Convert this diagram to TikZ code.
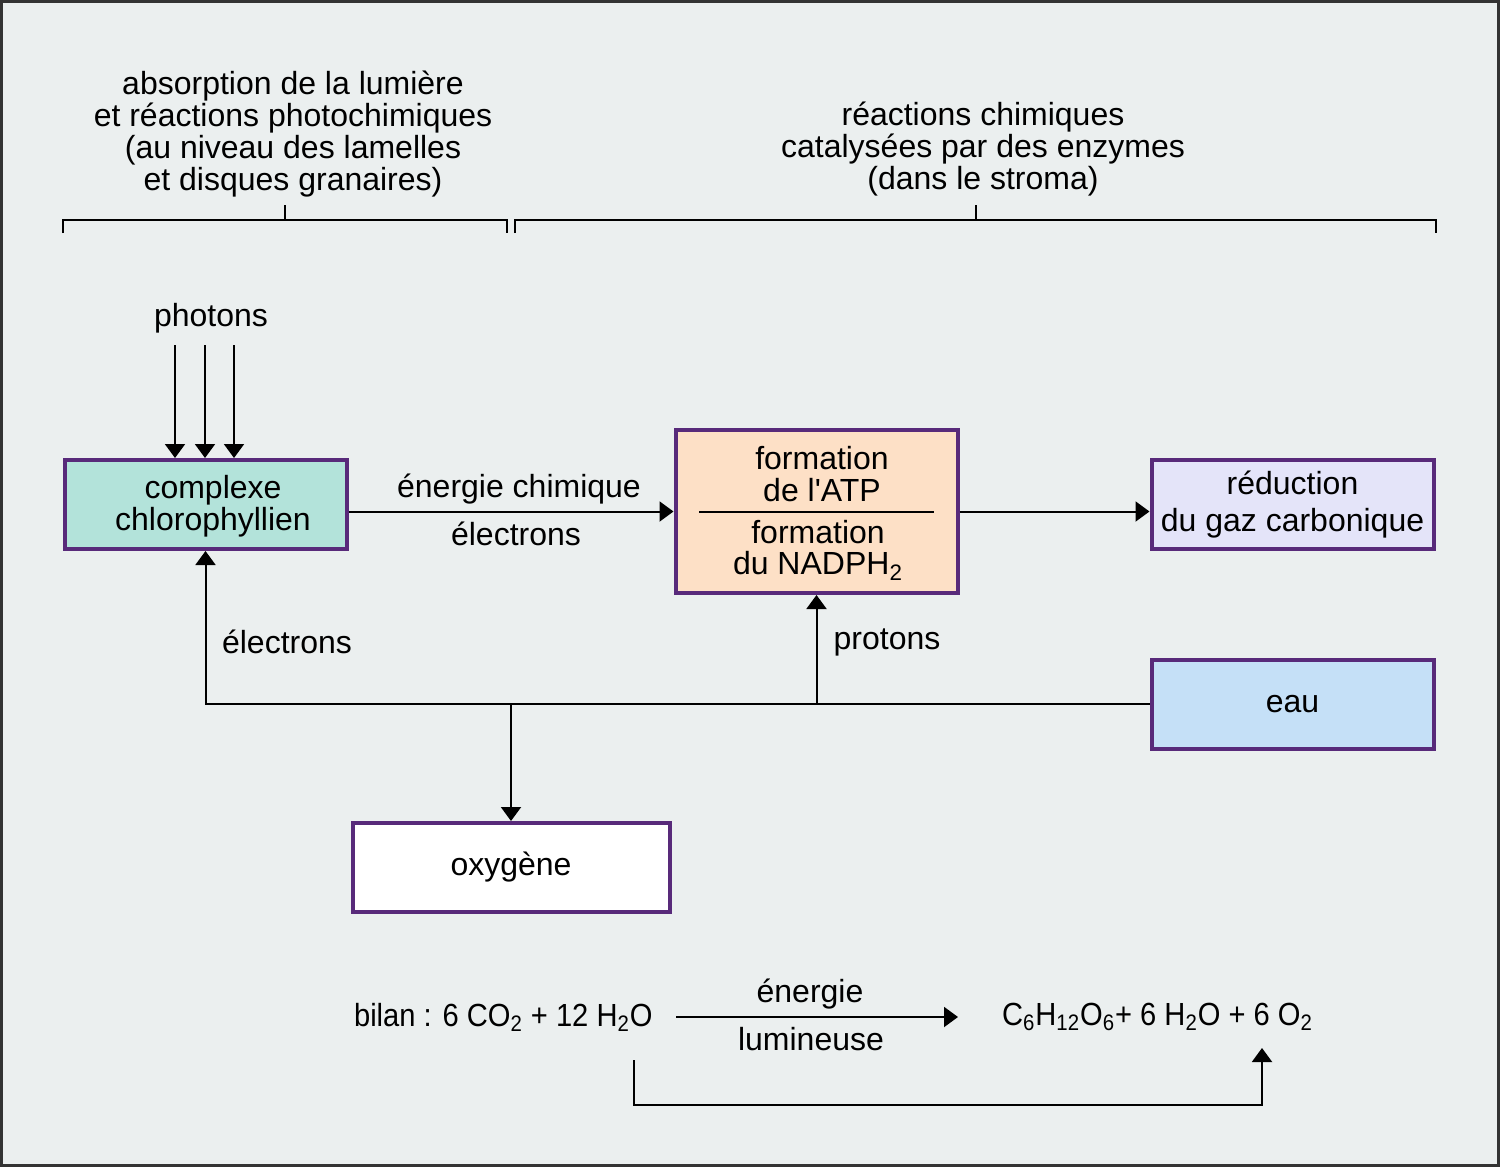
\documentclass[tikz,border=0pt]{standalone}
\usepackage{fontspec}
\setmainfont{Liberation Sans}
\newfontfamily\condensee[FakeStretch=0.91]{Liberation Sans}
\usetikzlibrary{arrows.meta}
\definecolor{fond}{RGB}{235,239,239}
\definecolor{cadre}{RGB}{88,42,122}
\definecolor{vert}{RGB}{179,227,218}
\definecolor{peche}{RGB}{253,224,198}
\definecolor{lavande}{RGB}{228,228,249}
\definecolor{bleu}{RGB}{197,224,247}
\tikzset{
  boite/.style={draw=cadre, line width=2pt, minimum width=141pt, minimum height=44.5pt, align=center, inner sep=0pt},
  fl/.style={-{Triangle[width=10pt,length=7pt]}, line width=1pt},
  trait/.style={line width=1pt},
}
\begin{document}
\begin{tikzpicture}[x=0.5pt, y=-0.5pt, font=\fontsize{16}{15.85}\selectfont]
\useasboundingbox (0,0) rectangle (1500,1167);
\fill[fond] (0,0) rectangle (1500,1167);
\draw[line width=1.5pt, black!80] (1,1) rectangle (1498,1165);

% en-tetes et accolades
\node[align=center] (hg) at (293,134) {absorption de la lumière\\et réactions photochimiques\\(au niveau des lamelles\\et disques granaires)};
\node[align=center] (hd) at (983,149) {réactions chimiques\\catalysées par des enzymes\\(dans le stroma)};
\draw[trait] (63,233) -- (63,220) -- (507,220) -- (507,233);
\draw[trait] (285,220) -- (285,205);
\draw[trait] (515,233) -- (515,220) -- (1436,220) -- (1436,233);
\draw[trait] (976,220) -- (976,205);

% boites
\node[boite, fill=vert] (cc) at (205.5,504.5) {};
\node[align=center] (cct) at (213,506) {complexe\\chlorophyllien};
\node[boite, fill=peche, minimum height=81.5pt] (f) at (816.5,511.5) {};
\node[align=center] (atp) at (822,474) {formation\\de l\textquotesingle ATP};
\node[align=center] (nadph) at (818,550) {formation\\du NADPH\textsubscript{2}};
\draw[trait] (699,512) -- (934,512);
\node[boite, fill=lavande] (r) at (1292.5,504.5) {réduction\\[2.6pt]du gaz carbonique};
\node[boite, fill=bleu] (e) at (1292.5,704) {eau};
\node[boite, fill=white, minimum width=158.5pt] (ox) at (511,867.5) {oxygène};

% photons
\node (ph) at (211,318) {photons};
\coordinate (p1) at (175,345);
\coordinate (p2) at (205,345);
\coordinate (p3) at (234,345);
\draw[fl] (p1) -- (p1 |- cc.north);
\draw[fl] (p2) -- (p2 |- cc.north);
\draw[fl] (p3) -- (p3 |- cc.north);

% liaisons
\draw[fl] (cc.east |- f) -- (f.west);
\node (ec) at (519,489) {énergie chimique};
\node (el1) at (516,534) {électrons};
\draw[fl] (f.east) -- (f.east -| r.west);
\draw[fl] (e.west) -| (cc.south);
\draw[fl] (e.west -| f.south) -- (f.south);
\draw[fl] (e.west -| ox.north) -- (ox.north);
\node (el2) at (287,642) {électrons};
\node (pr) at (887,642) {protons};

% bilan
\node[anchor=west, font=\condensee\fontsize{16}{15.85}\selectfont] (bg) at (347,1017) {bilan : 6 CO\textsubscript{2} + 12 H\textsubscript{2}O};
\node[anchor=west, font=\condensee\fontsize{16}{15.85}\selectfont] (bd) at (995,1017) {C\textsubscript{6}H\textsubscript{12}O\textsubscript{6}+ 6 H\textsubscript{2}O + 6 O\textsubscript{2}};
\coordinate (b1) at (676,1017);
\coordinate (b2) at (958,1017);
\draw[fl] (b1) -- (b2);
\node (en) at (810,994) {énergie};
\node (lu) at (811,1039) {lumineuse};
\coordinate (c1) at (634,1060);
\coordinate (c2) at (1262,1048);
\draw[fl] (c1) -- (634,1105) -| (c2);
\end{tikzpicture}
\end{document}
